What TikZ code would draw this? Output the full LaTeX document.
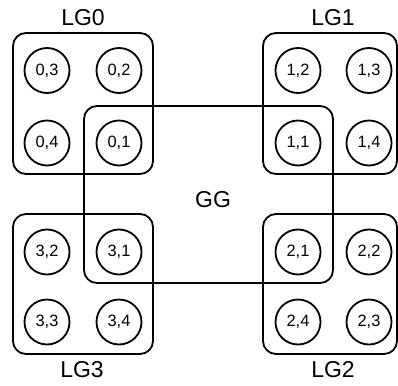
\documentclass[tikz,border=0pt]{standalone}
\usepackage{fontspec}
\setmainfont{Liberation Sans}
\begin{document}
\begin{tikzpicture}[x=1pt,y=-1pt, line width=1.8pt,
  proc/.style={draw, circle, minimum size=45pt, inner sep=0pt, font=\fontsize{16.4}{19}\selectfont},
  grp/.style={draw, rounded corners=13pt, inner sep=0pt},
  lbl/.style={font=\fontsize{23}{27}\selectfont, inner sep=0pt}]
\useasboundingbox (0,0) rectangle (398,385);
% group boxes
\node[grp, minimum width=140pt, minimum height=141pt] (lg0) at (83,103.5) {};
\node[grp, minimum width=134pt, minimum height=141pt] (lg1) at (330,103.5) {};
\node[grp, minimum width=134pt, minimum height=140pt] (lg2) at (330,284) {};
\node[grp, minimum width=140pt, minimum height=140pt] (lg3) at (83,284) {};
\node[grp, minimum width=249pt, minimum height=177pt] (gg) at (208.5,194.5) {};
% labels
\node[lbl] (t0) at (83,18) {LG0};
\node[lbl] (t1) at (333,18) {LG1};
\node[lbl] (t2) at (333,370) {LG2};
\node[lbl] (t3) at (82,370) {LG3};
\node[lbl] (tg) at (213,200) {GG};
% processes
\node[proc] (c03) at (47,70.5) {0,3};
\node[proc] (c02) at (119,70.5) {0,2};
\node[proc] (c04) at (47,143) {0,4};
\node[proc] (c01) at (119,143) {0,1};
\node[proc] (c12) at (298,70.5) {1,2};
\node[proc] (c13) at (369,70.5) {1,3};
\node[proc] (c11) at (298,143) {1,1};
\node[proc] (c14) at (369,143) {1,4};
\node[proc] (c32) at (47,252) {3,2};
\node[proc] (c31) at (119,252) {3,1};
\node[proc] (c33) at (47,322) {3,3};
\node[proc] (c34) at (119,322) {3,4};
\node[proc] (c21) at (298,252) {2,1};
\node[proc] (c22) at (369,252) {2,2};
\node[proc] (c24) at (298,322) {2,4};
\node[proc] (c23) at (369,322) {2,3};
\end{tikzpicture}
\end{document}
